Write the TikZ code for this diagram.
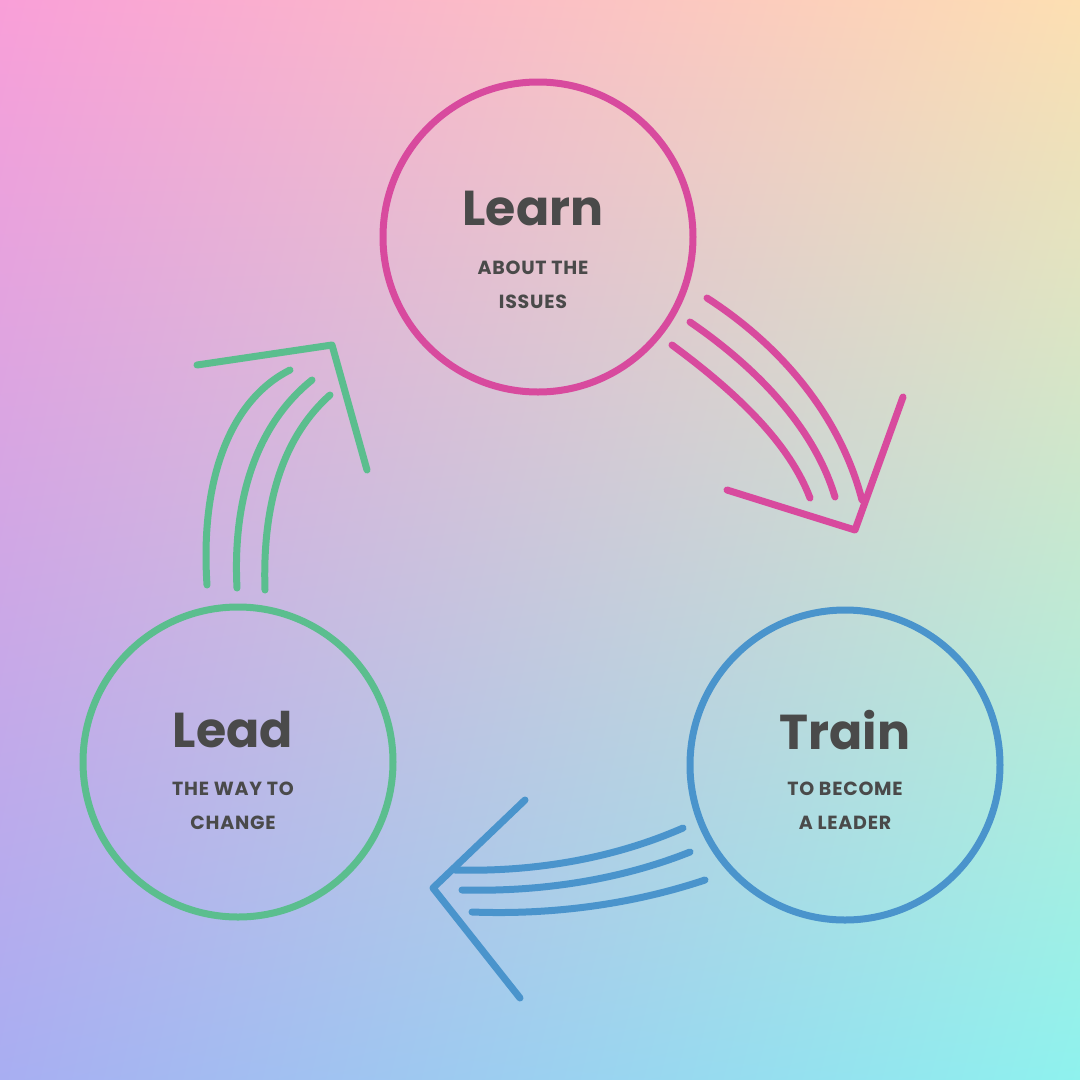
\documentclass[tikz,border=0pt]{standalone}
\usepackage{fontspec}
\usetikzlibrary{shadings}
\setmainfont{Poppins}
\begin{document}
\begin{tikzpicture}[x=1pt,y=-1pt,
  ring/.style={line width=7pt},
  stroke/.style={line width=7pt,line cap=round,line join=round},
  title/.style={text=txt,font=\fontsize{49}{50}\selectfont\bfseries},
  sub/.style={text=txt,align=center,font=\fontsize{19}{34}\selectfont\bfseries\addfontfeature{LetterSpace=4}}]
\definecolor{pk}{HTML}{D84A9E}\definecolor{gr}{HTML}{5BBE8E}\definecolor{bl}{HTML}{4A94CC}
\definecolor{txt}{HTML}{4A4A4A}
\definecolor{cTL}{HTML}{F99FD8}\definecolor{cTR}{HTML}{FDDFB2}
\definecolor{cBL}{HTML}{A8AEF2}\definecolor{cBR}{HTML}{8EF2EE}
\useasboundingbox (0,0) rectangle (1080,1080);
\shade[upper left=cTL,upper right=cTR,lower left=cBL,lower right=cBR] (0,0) rectangle (1080,1080);
% circles
\draw[ring,pk] (538,237) circle (155);
\draw[ring,bl] (845,765) circle (155);
\draw[ring,gr] (238,762) circle (155);
\node[title] (t1) at (533,208) {Learn};
\node[sub] (s1) at (533,285) {ABOUT THE\\ISSUES};
\node[title] (t2) at (845,730) {Train};
\node[sub] (s2) at (845,806) {TO BECOME\\A LEADER};
\node[title] (t3) at (233,730) {Lead};
\node[sub] (s3) at (233,806) {THE WAY TO\\CHANGE};
% pink arrow
\draw[stroke,pk] (672,345) .. controls (740,395) and (790,445) .. (810,498);
\draw[stroke,pk] (690,322) .. controls (760,370) and (815,430) .. (835,497);
\draw[stroke,pk] (707,298) .. controls (780,345) and (840,415) .. (862,500);
\draw[stroke,pk] (727,490) -- (855,530) -- (903,397);
% green arrow
\draw[stroke,gr] (207,585) .. controls (200,480) and (230,400) .. (290,370);
\draw[stroke,gr] (237,588) .. controls (232,490) and (262,420) .. (312,380);
\draw[stroke,gr] (265,590) .. controls (262,500) and (285,435) .. (330,395);
\draw[stroke,gr] (197,365) -- (332,345) -- (367,470);
% blue arrow
\draw[stroke,bl] (683,828) .. controls (610,860) and (530,872) .. (455,870);
\draw[stroke,bl] (690,852) .. controls (620,880) and (540,892) .. (462,890);
\draw[stroke,bl] (705,880) .. controls (630,905) and (550,915) .. (472,912);
\draw[stroke,bl] (525,800) -- (433,888) -- (520,998);
\end{tikzpicture}
\end{document}
